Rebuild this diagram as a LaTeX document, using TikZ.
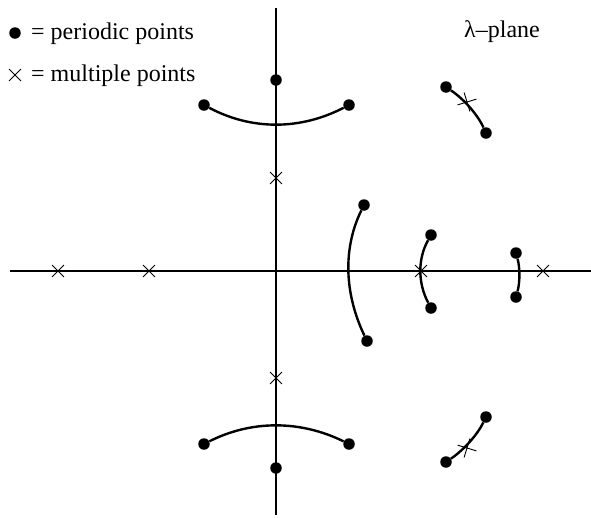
\documentclass[tikz,border=0pt]{standalone}
\usepackage{fontspec}
\setmainfont{Liberation Serif}
\usetikzlibrary{shapes.misc}
\tikzset{
  dot/.style={circle, fill=black, inner sep=0pt, minimum size=11.5pt},
  xmark/.style={cross out, draw=black, line width=0.9pt, inner sep=0pt, minimum size=11pt},
  curve/.style={line width=2.4pt},
  axis/.style={line width=2pt},
  thinaxis/.style={line width=1.1pt},
  lbl/.style={font=\fontsize{24}{28}\selectfont, inner sep=0pt, anchor=base west},
}
\begin{document}
\begin{tikzpicture}[x=1pt, y=-1pt]
\useasboundingbox (0,0) rectangle (591,517);
% axes
\coordinate (vtop) at (276,8);
\coordinate (vbot) at (276,515);
\coordinate (hl) at (10,271);
\coordinate (hr) at (591,271);
\draw[axis] (hl) -- (hr);
\draw[thinaxis] (vtop) -- (vbot);
% periodic points
\node[dot] (vt) at (276,80) {};
\node[dot] (vb) at (276,468) {};
\node[dot] (ta) at (204,105) {};
\node[dot] (tb) at (349,105) {};
\node[dot] (ba) at (204,444) {};
\node[dot] (bb) at (349,444) {};
\node[dot] (ura) at (446,87) {};
\node[dot] (urb) at (486,133) {};
\node[dot] (lra) at (446,462) {};
\node[dot] (lrb) at (486,417) {};
\node[dot] (ma) at (364,205) {};
\node[dot] (mb) at (367,341) {};
\node[dot] (na) at (431,235) {};
\node[dot] (nb) at (431,308) {};
\node[dot] (sa) at (516,253) {};
\node[dot] (sb) at (516,297) {};
\draw[axis] (vt) -- (vb);
% multiple points
\node[xmark] (x1) at (58,271) {};
\node[xmark] (x2) at (149,271) {};
\node[xmark] (x3) at (421,271) {};
\node[xmark] (x4) at (543,271) {};
\node[xmark] (x5) at (276,178) {};
\node[xmark] (x6) at (276,378) {};
\node[xmark, rotate=-28, minimum size=13pt] (x7) at (467,102) {};
\node[xmark, rotate=28, minimum size=13pt] (x8) at (467,448) {};
% arcs
\draw[curve] (ta) .. controls (251.7,130.3) and (300,130.3) .. (tb);
\draw[curve] (ba) .. controls (251.7,420) and (300,420) .. (bb);
\draw[curve] (ma) .. controls (343,247.7) and (344,293) .. (mb);
\draw[curve] (na) .. controls (417.7,258.7) and (417.7,283) .. (nb);
\draw[curve] (sa) .. controls (520,267.7) and (520,282.3) .. (sb);
\draw[curve] (ura) .. controls (464.4,99.5) and (477.7,114.9) .. (urb);
\draw[curve] (lra) .. controls (464.4,449.5) and (477.7,434.1) .. (lrb);
% legend
\node[dot] (ld) at (15,33) {};
\node[xmark] (lx) at (15,75) {};
\node[lbl] (lt1) at (31,39) {= periodic points};
\node[lbl] (lt2) at (31,81) {= multiple points};
\node[lbl] (plane) at (464,37) {λ–plane};
\end{tikzpicture}
\end{document}
